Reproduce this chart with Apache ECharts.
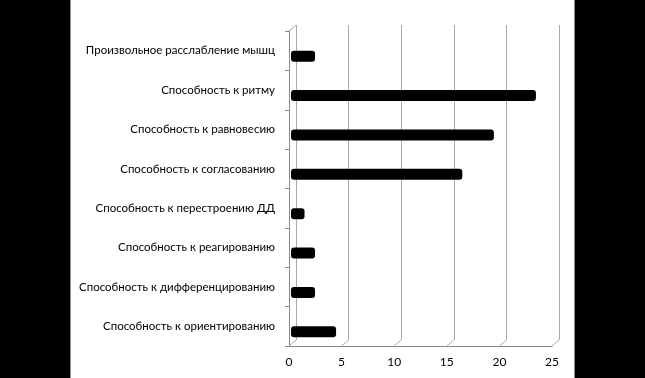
<!doctype html>
<html lang="ru">
  <head>
    <meta charset="UTF-8" />
    <title>Способности</title>
    <script src="https://cdn.jsdelivr.net/npm/echarts@6/dist/echarts.min.js"></script>
    <style>
      html,
      body {
        margin: 0;
        padding: 0;
        background: #000;
        width: 645px;
        height: 378px;
        overflow: hidden;
      }
      .panel {
        position: absolute;
        left: 70px;
        top: 0;
        width: 503px;
        height: 378px;
        background: #fff;
        border-left: 1px solid #8c8c8c;
        border-right: 1px solid #8c8c8c;
      }
      #chart {
        position: absolute;
        left: 0;
        top: 0;
        width: 645px;
        height: 378px;
      }
    </style>
  </head>
  <body>
    <div class="panel"></div>
    <div id="chart"></div>

    <script>
      // categories, top to bottom
      const categories = [
        'Произвольное расслабление мышц',
        'Способность к ритму',
        'Способность к равновесию',
        'Способность к согласованию',
        'Способность к перестроению ДД',
        'Способность к реагированию',
        'Способность к дифференцированию',
        'Способность к ориентированию',
      ];
      const values = [2, 23, 19, 16, 1, 2, 2, 4];
      const xTicks = [0, 5, 10, 15, 20, 25];

      const FONT = 'Lato, "Open Sans", sans-serif';
      const GRID_COLOR = '#a8a8a8';
      const AXIS_COLOR = '#8a8a8a';

      // back wall and front plane of the pseudo-3d chart
      const back = { left: 296, top: 25, width: 263, height: 315 };
      const front = { left: 289, top: 31, width: 263, height: 315 };

      const chart = echarts.init(document.getElementById('chart'));

      const option = {
        animation: false,
        backgroundColor: 'transparent',
        grid: [back, front],
        xAxis: [
          {
            gridIndex: 0,
            type: 'value',
            min: 0,
            max: 25,
            interval: 5,
            axisLine: { show: false },
            axisTick: { show: false },
            axisLabel: { show: false },
            splitLine: { lineStyle: { color: GRID_COLOR, width: 1 } },
          },
          {
            gridIndex: 1,
            type: 'value',
            min: 0,
            max: 25,
            interval: 5,
            axisLine: { show: true, lineStyle: { color: AXIS_COLOR } },
            axisTick: { show: false },
            splitLine: { show: false },
            axisLabel: {
              margin: 10,
              color: '#000',
              fontSize: 12,
              fontFamily: FONT,
            },
          },
        ],
        yAxis: [
          {
            gridIndex: 0,
            type: 'category',
            inverse: true,
            data: categories,
            show: false,
          },
          {
            gridIndex: 1,
            type: 'category',
            inverse: true,
            data: categories,
            axisLine: { show: true, lineStyle: { color: AXIS_COLOR } },
            axisTick: { show: true, length: 4, lineStyle: { color: AXIS_COLOR } },
            splitLine: { show: false },
            axisLabel: {
              margin: 14,
              color: '#000',
              fontSize: 11.5,
              fontFamily: FONT,
            },
          },
        ],
        series: [
          {
            type: 'custom',
            xAxisIndex: 1,
            yAxisIndex: 1,
            data: values.map((v, i) => [v, i]),
            renderItem: function (params, api) {
              const start = api.coord([0, api.value(1)]);
              const end = api.coord([api.value(0), api.value(1)]);
              const depth = 5; // 3d bar cap
              return {
                type: 'rect',
                shape: {
                  x: start[0] + 2,
                  y: start[1],
                  width: end[0] - start[0] + depth - 2,
                  height: 11,
                  r: 3,
                },
                style: { fill: '#000' },
              };
            },
          },
        ],
      };

      chart.setOption(option);

      // floor connectors between front axis and back wall
      const lines = [];
      const frontBottom = front.top + front.height;
      const backBottom = back.top + back.height;
      xTicks.forEach((t) => {
        const fx = chart.convertToPixel({ xAxisIndex: 1 }, t);
        const bx = chart.convertToPixel({ xAxisIndex: 0 }, t);
        lines.push({
          type: 'line',
          z: 5,
          shape: { x1: fx, y1: frontBottom, x2: bx, y2: backBottom },
          style: { stroke: GRID_COLOR, lineWidth: 1 },
        });
      });
      // top-left side wall edge
      lines.push({
        type: 'line',
        z: 5,
        shape: { x1: front.left, y1: front.top, x2: back.left, y2: back.top },
        style: { stroke: GRID_COLOR, lineWidth: 1 },
      });
      chart.setOption({ graphic: lines });
    </script>
  </body>
</html>
